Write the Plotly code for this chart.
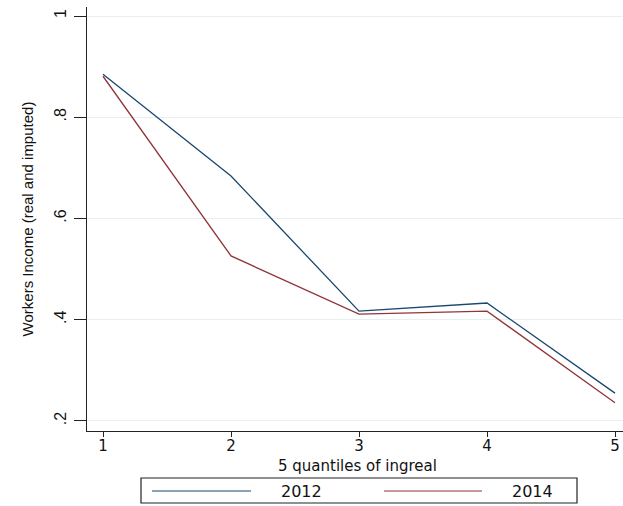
import plotly.graph_objects as go

# Mean workers income by income quintile, two survey years
quintiles = [1, 2, 3, 4, 5]
income_2012 = [0.885, 0.684, 0.417, 0.433, 0.255]
income_2014 = [0.881, 0.526, 0.411, 0.417, 0.236]
y_ticks = [0.2, 0.4, 0.6, 0.8, 1.0]
y_tick_labels = [".2", ".4", ".6", ".8", "1"]
series_names = ["2012", "2014"]
series_colors = ["#1a476f", "#90353b"]
x_title = "5 quantiles of ingreal"
y_title = "Workers Income (real and imputed)"

W, H = 623, 506
M_L, M_R, M_T, M_B = 87, 0, 7, 75

fig = go.Figure()
for name, vals, col in zip(series_names, [income_2012, income_2014], series_colors):
    fig.add_trace(go.Scatter(
        x=quintiles, y=vals, mode="lines", name=name,
        line=dict(color=col, width=1.3), showlegend=False,
    ))

axis_font = dict(family="DejaVu Sans", size=16, color="#111")
tick_font = dict(family="DejaVu Sans", size=15, color="#111")

fig.update_xaxes(
    range=[0.875, 5.0625], tickvals=quintiles, ticktext=[str(q) for q in quintiles],
    showgrid=False, zeroline=False, showline=True, linecolor="#222", linewidth=1,
    ticks="outside", ticklen=5, tickcolor="#222", tickwidth=1,
    tickfont=tick_font, ticklabelstandoff=-4,
)
fig.update_yaxes(
    range=[0.1802, 1.0178], tickvals=y_ticks, ticktext=y_tick_labels,
    tickangle=-90, showgrid=True, gridcolor="#e6eff1", gridwidth=1,
    zeroline=False, showline=True, linecolor="#222", linewidth=1,
    ticks="outside", ticklen=12, tickcolor="#222", tickwidth=1,
    ticklabelstandoff=2,
    tickfont=dict(family="Liberation Sans", size=16, color="#111"),
    title=dict(text=y_title,
               font=dict(family="Liberation Sans", size=15, color="#111"), standoff=14),
)

# Pixel helpers for placing the legend and x title in paper coordinates
def px_x(p):
    return (p - M_L) / (W - M_L - M_R)

def px_y(p):
    return (H - M_B - p) / (H - M_T - M_B)

annotations = [dict(text=x_title, xref="paper", yref="paper",
                    x=px_x(357), y=px_y(466), xanchor="center", yanchor="middle",
                    showarrow=False, font=tick_font)]

# Legend drawn as a framed box below the plot, with long line samples
shapes = [dict(type="rect", xref="paper", yref="paper",
               x0=px_x(141), x1=px_x(577), y0=px_y(503), y1=px_y(478),
               line=dict(color="#222", width=1.2), fillcolor="white", layer="above")]
legend_items = [(152, 251, 301), (384, 482, 532)]
for (lx0, lx1, tx), name, col in zip(legend_items, series_names, series_colors):
    shapes.append(dict(type="line", xref="paper", yref="paper",
                       x0=px_x(lx0), x1=px_x(lx1), y0=px_y(491), y1=px_y(491),
                       line=dict(color=col, width=1.2), layer="above"))
    annotations.append(dict(text=name, xref="paper", yref="paper",
                            x=px_x(tx), y=px_y(491.5), xanchor="center", yanchor="middle",
                            showarrow=False, font=axis_font))

fig.update_layout(
    width=W, height=H, margin=dict(l=M_L, r=M_R, t=M_T, b=M_B),
    paper_bgcolor="white", plot_bgcolor="white",
    shapes=shapes, annotations=annotations, showlegend=False,
)

fig.write_html("out.html")
